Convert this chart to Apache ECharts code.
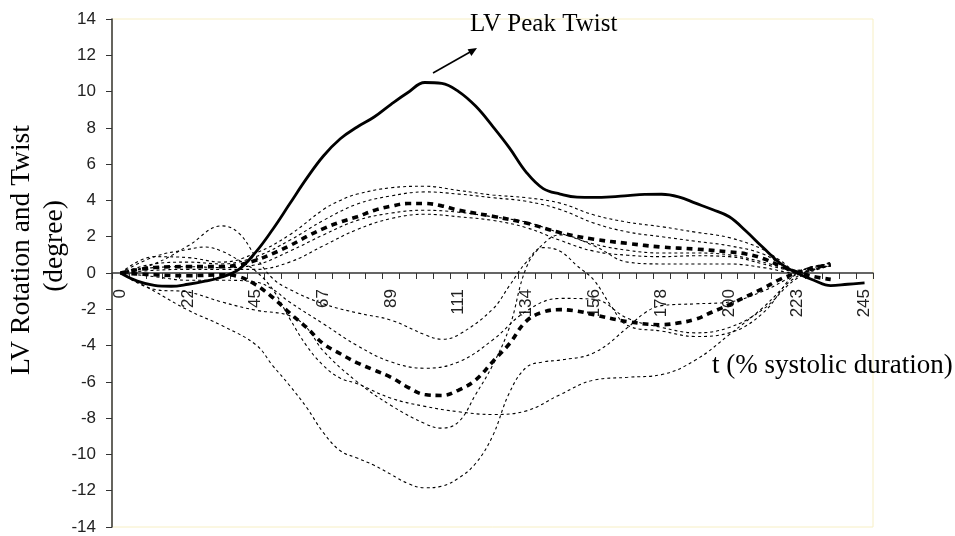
<!DOCTYPE html>
<html>
<head>
<meta charset="utf-8">
<title>LV rotation and twist</title>
<style>
  html, body { margin: 0; padding: 0; background: #fff; }
  #chart { width: 955px; height: 536px; }
</style>
<script src="https://cdn.jsdelivr.net/npm/echarts@6/dist/echarts.min.js"></script>
</head>
<body>
<div id="chart"></div>
<script>
// category axis: 45 steps of systolic duration (%), a label every 4th step
var xCats = ['0','6','11','17','22','28','33','39','45','50','56','61','67','72','78',
  '84','89','95','100','106','111','117','123','128','134','139','145','150','156',
  '161','167','173','178','184','189','195','200','206','212','217','223','228','234',
  '239','245'];

// LV twist, one value per category
var twist = [0,-0.45,-0.68,-0.73,-0.62,-0.45,-0.22,0.2,1.15,2.4,3.8,5.2,6.45,7.4,8.05,
  8.6,9.3,9.95,10.5,10.45,10.0,9.2,8.1,6.9,5.55,4.65,4.35,4.18,4.17,4.2,4.27,4.33,4.34,
  4.2,3.85,3.5,3.1,2.3,1.4,0.55,0,-0.4,-0.7,-0.62,-0.55];

// mean curves, [category index, degree]
var meanPos = [[0,0],[2,0.3],[4,0.35],[6,0.35],[7,0.45],[8,0.7],[9,1.07],[10,1.5],[11,2.0],
  [12,2.45],[13,2.81],[14,3.1],[15,3.45],[16,3.68],[17,3.83],[18,3.83],[19,3.7],[20,3.46],
  [22,3.13],[24,2.75],[26,2.22],[28,1.86],[30,1.63],[32,1.43],[34,1.32],[36,1.16],
  [37,1.05],[38,0.8],[39,0.4],[40,0.05],[41,-0.2],[42,-0.35]];
var meanNeg = [[0,0],[2,-0.1],[4,-0.15],[6,-0.1],[7,-0.2],[8,-0.65],[9,-1.35],[10,-2.2],
  [11,-3.0],[12,-3.9],[13,-4.45],[14,-4.95],[15,-5.35],[16,-5.75],[17,-6.3],[18,-6.7],
  [19,-6.75],[20,-6.45],[21,-5.9],[22,-4.9],[23,-3.9],[24,-2.65],[25,-2.15],[26,-2.02],
  [27,-2.1],[28,-2.3],[30,-2.68],[32,-2.85],[33,-2.75],[34,-2.55],[35,-2.15],[36,-1.75],
  [37,-1.3],[38,-0.85],[39,-0.35],[40,0.0],[41,0.3],[42,0.45]];

// single segments (thin dashed)
var pos1 = [[0,0],[2,0.9],[4,0.85],[6,0.6],[8,1.1],[10,2.1],[12,3.5],[13,4.0],[14,4.35],
  [16,4.7],[18,4.78],[20,4.55],[22,4.3],[24,4.15],[26,3.85],[28,3.2],[30,2.8],[32,2.55],
  [34,2.25],[36,1.95],[38,1.3],[39,0.7],[40,0.15],[42,0.6]];
var pos2 = [[0,0],[2,0.5],[4,0.6],[6,0.5],[8,0.9],[10,1.8],[12,2.9],[14,3.8],[16,4.25],
  [18,4.47],[20,4.35],[22,4.15],[24,3.95],[26,3.5],[28,2.75],[30,2.26],[32,2.0],[34,1.75],
  [36,1.5],[38,1.05],[40,0.1],[42,0.45]];
var pos3 = [[0,0],[2,0.3],[4,0.35],[6,0.3],[8,0.45],[10,1.2],[12,2.1],[14,2.9],[16,3.3],
  [18,3.46],[20,3.35],[22,3.1],[24,2.8],[26,2.2],[28,1.6],[30,1.25],[32,1.1],[34,1.1],
  [36,1.0],[38,0.6],[40,0.05]];
var pos4 = [[0,0],[2,0.15],[4,0.2],[6,0.2],[8,0.2],[10,0.6],[12,1.5],[14,2.4],[16,3.0],
  [18,3.24],[20,3.1],[22,2.9],[24,2.5],[26,1.8],[28,1.2],[30,0.98],[32,0.9],[34,0.95],
  [36,0.9],[38,0.5],[40,0]];
var negA = [[0,0],[2,0.5],[4,1.5],[6,2.6],[7,2.2],[8,0.9],[9,-0.3],[10,-0.9],[12,-1.7],
  [14,-2.2],[16,-2.6],[18,-3.4],[19,-3.65],[20,-3.4],[22,-2.0],[23,-0.7],[24,0.6],[25,1.4],
  [26,1.2],[27,0.4],[28,-0.4],[29,-1.8],[30,-2.9],[32,-3.2],[34,-3.5],[36,-3.3],[38,-2.2],
  [40,0],[42,0.5]];
var negB = [[0,0],[2,-0.2],[4,-0.4],[6,-0.4],[8,-0.5],[9,-0.9],[10,-1.6],[12,-2.8],
  [14,-4.0],[16,-4.9],[18,-5.25],[20,-4.9],[22,-3.7],[24,-2.1],[26,-1.4],[28,-1.45],
  [30,-2.5],[32,-3.0],[34,-3.3],[36,-3.0],[38,-2.0],[40,-0.3],[42,0.4]];
var negC = [[0,0],[2,0.9],[4,1.3],[5,1.43],[6,1.2],[7,0.7],[8,0.1],[9,-0.9],[10,-2.5],
  [11,-4.0],[12,-5.1],[13,-5.8],[14,-6.1],[16,-6.9],[18,-7.35],[20,-7.65],[22,-7.8],
  [24,-7.6],[26,-6.7],[28,-5.9],[30,-5.75],[32,-5.6],[34,-4.8],[36,-3.4],[38,-1.9],
  [40,-0.2],[42,0.4]];
var negD = [[0,0],[2,-0.9],[4,-1.05],[6,-1.6],[8,-2.05],[10,-2.35],[11,-3.0],[12,-4.3],
  [14,-6.0],[16,-7.3],[18,-8.3],[19,-8.55],[20,-8.2],[21,-6.7],[22,-5.1],[23,-3.0],
  [24,0.3],[25,1.6],[26,2.1],[28,1.5],[30,0.6],[32,0.5],[34,0.5],[36,0.5],[38,0.3],
  [40,0],[42,0.6]];
var negE = [[0,0],[2,-1.0],[4,-2.05],[6,-2.9],[8,-3.95],[9,-5.1],[10,-6.2],[11,-7.4],
  [12,-8.8],[13,-9.8],[14,-10.2],[15,-10.6],[16,-11.1],[17,-11.6],[18,-11.84],[19,-11.75],
  [20,-11.3],[21,-10.5],[22,-9.0],[23,-6.6],[24,-5.2],[25,-4.9],[26,-4.8],[28,-4.4],
  [30,-3.0],[31,-2.2],[32,-1.8],[34,-1.7],[36,-1.6],[38,-1.0],[40,-0.1],[42,0.4]];

var yTicks = { min: -14, max: 14, step: 2 };

function thin(name, pts) {
  return {
    name: name, type: 'line', data: pts, smooth: 0.4, symbol: 'none',
    lineStyle: { color: '#000', width: 1.1, type: [3, 3] }, z: 2
  };
}
function mean(name, pts) {
  return {
    name: name, type: 'line', data: pts, smooth: 0.4, symbol: 'none',
    lineStyle: { color: '#000', width: 3.6, type: [6, 5] }, z: 3
  };
}

var serif = '"Liberation Serif", "Times New Roman", serif';
var sans = '"Liberation Sans", Arial, sans-serif';

var gridTop = 19, gridBottom = 9, chartH = 536;
// x axis drawn across the zero line: shift it up from the bottom edge
var plotH = chartH - gridTop - gridBottom;
var zeroShift = -plotH * (0 - yTicks.min) / (yTicks.max - yTicks.min);

var chart = echarts.init(document.getElementById('chart'));
chart.setOption({
  animation: false,
  grid: {
    left: 112, right: 82, top: gridTop, bottom: gridBottom,
    show: true, borderColor: '#f7efc4', borderWidth: 1,
    outerBoundsMode: 'none', containLabel: false
  },
  xAxis: {
    type: 'category',
    position: 'bottom',
    offset: zeroShift,
    data: xCats,
    boundaryGap: true,
    axisLine: { show: true, onZero: false, lineStyle: { color: '#333', width: 1.5 } },
    axisTick: { show: true, interval: 0, length: 6, lineStyle: { color: '#333', width: 1 } },
    axisLabel: {
      show: true, interval: 3, rotate: 90, margin: 16,
      fontFamily: sans, fontSize: 17, color: '#222'
    },
    splitLine: { show: false }
  },
  yAxis: {
    type: 'value',
    min: yTicks.min, max: yTicks.max, interval: yTicks.step,
    axisLine: { show: true, onZero: false, lineStyle: { color: '#333', width: 1.5 } },
    axisTick: { show: true, length: 6, lineStyle: { color: '#333', width: 1 } },
    axisLabel: { margin: 16, fontFamily: sans, fontSize: 17, color: '#222' },
    splitLine: { show: false }
  },
  series: [
    thin('s1', pos1), thin('s2', pos2), thin('s3', pos3), thin('s4', pos4),
    thin('s5', negA), thin('s6', negB), thin('s7', negC), thin('s8', negD), thin('s9', negE),
    mean('mean apical', meanPos), mean('mean basal', meanNeg),
    {
      name: 'twist', type: 'line', data: twist, smooth: 0.4, symbol: 'none',
      lineStyle: { color: '#000', width: 2.8 }, z: 4
    }
  ],
  graphic: [
    {
      type: 'text', x: 22, y: 250, rotation: Math.PI / 2,
      style: { text: 'LV Rotation and Twist', font: '27.5px ' + serif, fill: '#000',
        align: 'center', verticalAlign: 'middle' }
    },
    {
      type: 'text', x: 55, y: 246, rotation: Math.PI / 2,
      style: { text: '(degree)', font: '27.5px ' + serif, fill: '#000',
        align: 'center', verticalAlign: 'middle' }
    },
    {
      type: 'text', x: 712, y: 366,
      style: { text: 't (% systolic duration)', font: '27px ' + serif, fill: '#000',
        align: 'left', verticalAlign: 'middle' }
    },
    {
      type: 'text', x: 470, y: 24,
      style: { text: 'LV Peak Twist', font: '25px ' + serif, fill: '#000',
        align: 'left', verticalAlign: 'middle' }
    },
    {
      type: 'line', shape: { x1: 433, y1: 73, x2: 471, y2: 51.5 },
      style: { stroke: '#000', lineWidth: 1.6 }
    },
    {
      type: 'polygon', shape: { points: [[477, 48], [471.4, 56], [467.6, 49.2]] },
      style: { fill: '#000' }
    }
  ]
});
</script>
</body>
</html>
